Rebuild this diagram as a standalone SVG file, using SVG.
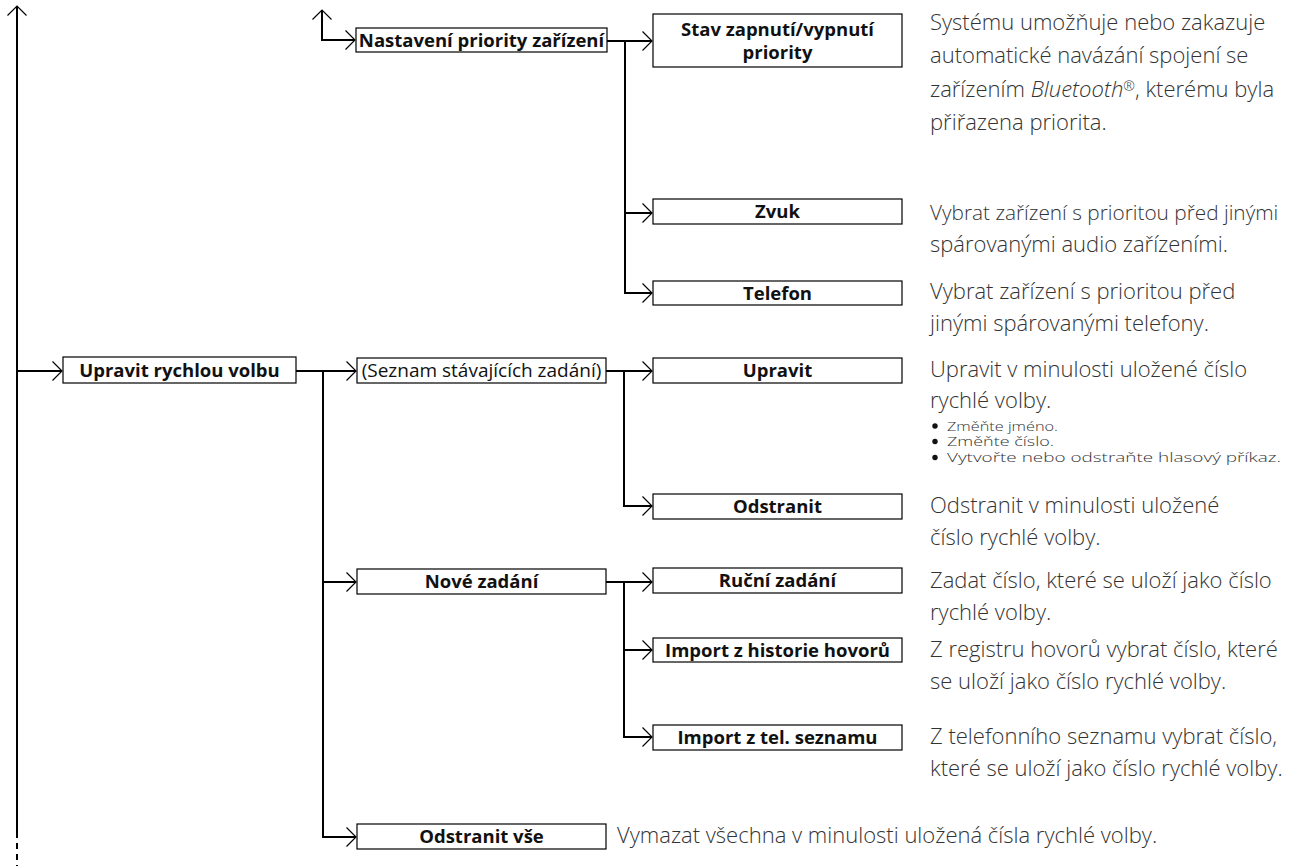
<svg xmlns="http://www.w3.org/2000/svg" width="1294" height="866" viewBox="0 0 1294 866">
<style>
.box{fill:#fff;stroke:#000;stroke-width:1.2}
.lbl{font-family:"Open Sans","Liberation Sans",sans-serif;font-weight:bold;font-size:18.5px;fill:#111;text-anchor:middle}
.lbn{font-family:"Open Sans","Liberation Sans",sans-serif;font-size:19px;fill:#111;text-anchor:middle}
.desc{font-family:"Open Sans","Liberation Sans",sans-serif;font-weight:300;font-size:22px;fill:#333}
.sm{font-size:20.8px}
.bul{font-family:"Open Sans","Liberation Sans",sans-serif;font-weight:300;font-size:13px;fill:#333}
.ln{fill:none;stroke:#000;stroke-width:2}
</style>
<defs>
<marker id="ah" markerUnits="userSpaceOnUse" viewBox="0 0 12 22" markerWidth="12" markerHeight="22" refX="10" refY="10" orient="auto" overflow="visible">
<path d="M0.5,0.5 L10,10 L0.5,19.5" fill="none" stroke="#000" stroke-width="1.2"/>
</marker>
</defs>
<g id="connectors">
<path class="ln" d="M17,832 L17,6" marker-end="url(#ah)"/>
<path class="ln" d="M17,832 L17,866" stroke-dasharray="6,5"/>
<path class="ln" d="M17,371 L62,371" marker-end="url(#ah)"/>
<path class="ln" d="M322,40 L322,10" marker-end="url(#ah)"/>
<path class="ln" d="M321,40 L355,40" marker-end="url(#ah)"/>
<path class="ln" d="M607,41 L652,41" marker-end="url(#ah)"/>
<path class="ln" d="M625,41 L625,213 L652,213" marker-end="url(#ah)"/>
<path class="ln" d="M625,213 L625,293 L652,293" marker-end="url(#ah)"/>
<path class="ln" d="M296,371 L356,371" marker-end="url(#ah)"/>
<path class="ln" d="M323,371 L323,582 L356,582" marker-end="url(#ah)"/>
<path class="ln" d="M323,582 L323,837 L356,837" marker-end="url(#ah)"/>
<path class="ln" d="M606,371 L652,371" marker-end="url(#ah)"/>
<path class="ln" d="M624,371 L624,506 L652,506" marker-end="url(#ah)"/>
<path class="ln" d="M606,582 L652,582" marker-end="url(#ah)"/>
<path class="ln" d="M624,582 L624,650 L652,650" marker-end="url(#ah)"/>
<path class="ln" d="M624,650 L624,737 L652,737" marker-end="url(#ah)"/>
</g>
<g id="n-nastaveni"><rect class="box" x="356" y="28" width="251" height="24"/><text class="lbl" x="481.5" y="46.5">Nastavení priority zařízení</text></g>
<g id="n-stav"><rect class="box" x="653" y="14" width="249" height="53"/><text class="lbl" x="777.5" y="35.5">Stav zapnutí/vypnutí</text><text class="lbl" x="777.5" y="58.5">priority</text></g>
<g id="n-zvuk"><rect class="box" x="653" y="199" width="249" height="25"/><text class="lbl" x="777.5" y="218">Zvuk</text></g>
<g id="n-telefon"><rect class="box" x="653" y="281" width="249" height="24"/><text class="lbl" x="777.5" y="299.5">Telefon</text></g>
<g id="n-upravit-rychlou"><rect class="box" x="63" y="357" width="233" height="26"/><text class="lbl" x="179.5" y="376.5">Upravit rychlou volbu</text></g>
<g id="n-seznam"><rect class="box" x="357" y="358" width="249" height="25"/><text class="lbn" x="481.5" y="377">(Seznam stávajících zadání)</text></g>
<g id="n-upravit"><rect class="box" x="653" y="358" width="249" height="25"/><text class="lbl" x="777.5" y="377">Upravit</text></g>
<g id="n-odstranit"><rect class="box" x="653" y="494" width="249" height="25"/><text class="lbl" x="777.5" y="513">Odstranit</text></g>
<g id="n-nove"><rect class="box" x="357" y="569" width="249" height="25"/><text class="lbl" x="481.5" y="588">Nové zadání</text></g>
<g id="n-rucni"><rect class="box" x="653" y="568" width="249" height="25"/><text class="lbl" x="777.5" y="587">Ruční zadání</text></g>
<g id="n-import-hist"><rect class="box" x="653" y="638" width="249" height="24"/><text class="lbl" x="777.5" y="656.5">Import z historie hovorů</text></g>
<g id="n-import-tel"><rect class="box" x="653" y="725" width="249" height="25"/><text class="lbl" x="777.5" y="744">Import z tel. seznamu</text></g>
<g id="n-odstranit-vse"><rect class="box" x="357" y="824" width="249" height="25"/><text class="lbl" x="481.5" y="843">Odstranit vše</text></g>
<g id="descriptions">
<text class="desc" x="930" y="30">Systému umožňuje nebo zakazuje</text>
<text class="desc" x="930" y="63">automatické navázání spojení se</text>
<text class="desc" x="930" y="97">zařízením <tspan font-style="italic">Bluetooth</tspan><tspan font-size="14" baseline-shift="6">®</tspan>, kterému byla</text>
<text class="desc" x="930" y="130">přiřazena priorita.</text>
<text class="desc sm" x="930" y="220">Vybrat zařízení s prioritou před jinými</text>
<text class="desc" x="930" y="252">spárovanými audio zařízeními.</text>
<text class="desc" x="930" y="299">Vybrat zařízení s prioritou před</text>
<text class="desc" x="930" y="331">jinými spárovanými telefony.</text>
<text class="desc" x="930" y="377">Upravit v minulosti uložené číslo</text>
<text class="desc" x="930" y="408">rychlé volby.</text>
<circle cx="935" cy="426" r="2.7" fill="#111"/>
<text class="bul" x="947" y="430.5" textLength="111" lengthAdjust="spacingAndGlyphs">Změňte jméno.</text>
<circle cx="935" cy="441.5" r="2.7" fill="#111"/>
<text class="bul" x="947" y="446" textLength="107" lengthAdjust="spacingAndGlyphs">Změňte číslo.</text>
<circle cx="935" cy="457.5" r="2.7" fill="#111"/>
<text class="bul" x="947" y="462" textLength="334" lengthAdjust="spacingAndGlyphs">Vytvořte nebo odstraňte hlasový příkaz.</text>
<text class="desc" x="930" y="513">Odstranit v minulosti uložené</text>
<text class="desc" x="930" y="545">číslo rychlé volby.</text>
<text class="desc" x="930" y="588">Zadat číslo, které se uloží jako číslo</text>
<text class="desc" x="930" y="620">rychlé volby.</text>
<text class="desc" x="930" y="657">Z registru hovorů vybrat číslo, které</text>
<text class="desc" x="930" y="689">se uloží jako číslo rychlé volby.</text>
<text class="desc" x="930" y="744">Z telefonního seznamu vybrat číslo,</text>
<text class="desc" x="930" y="776">které se uloží jako číslo rychlé volby.</text>
<text class="desc" x="617" y="843">Vymazat všechna v minulosti uložená čísla rychlé volby.</text>
</g>
</svg>
